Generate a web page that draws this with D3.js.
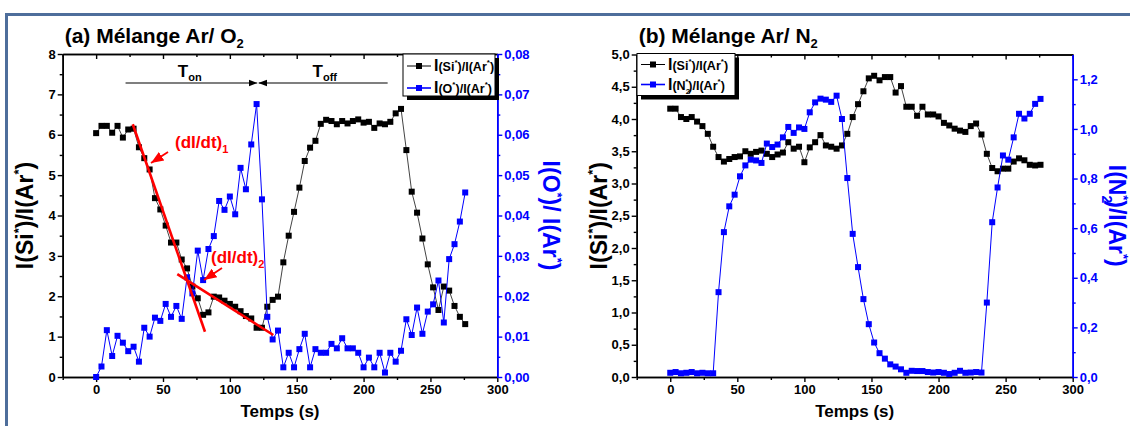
<!DOCTYPE html>
<html><head><meta charset="utf-8">
<script src="https://cdn.jsdelivr.net/npm/d3@7"></script>
<style>
body{margin:0;background:#fff}
svg{display:block}
text{font-family:Arial,"Liberation Sans",sans-serif;font-weight:bold}
</style>
</head><body>
<svg id="c" width="1130" height="426"></svg>
<script>
// ---------------- DATA ----------------
const timesA = [0,4,8,12,16,20,24,28,32,36,40,44,48,52,56,60,64,68,72,76,80,84,88,92,96,100,104,108,112,116,120,124,128,132,136,140,144,148,152,156,160,164,168,172,176,180,184,188,192,196,200,204,208,212,216,220,224,228,232,236,240,244,248,252,256,260,264,268,272,276];
const siA = [6.04,6.22,6.22,6.05,6.22,5.93,6.13,6.15,5.69,5.42,5.14,4.43,4.15,3.75,3.33,3.33,2.91,2.69,2.24,1.95,1.54,1.60,1.99,1.97,1.89,1.81,1.74,1.63,1.51,1.45,1.22,1.22,1.74,1.91,1.99,2.84,3.50,4.09,4.69,5.35,5.68,5.85,6.27,6.37,6.34,6.26,6.34,6.28,6.34,6.38,6.30,6.32,6.17,6.28,6.26,6.32,6.53,6.64,5.62,4.59,4.07,3.43,2.79,2.22,1.66,2.24,2.14,1.76,1.49,1.31];
const oA = [0.0000,0.0026,0.0116,0.0052,0.0102,0.0085,0.0064,0.0075,0.0038,0.0122,0.0100,0.0147,0.0139,0.0181,0.0149,0.0176,0.0144,0.0247,0.0207,0.0313,0.0240,0.0317,0.0349,0.0436,0.0414,0.0447,0.0403,0.0518,0.0465,0.0576,0.0676,0.0440,0.0149,0.0093,0.0115,0.0024,0.0060,0.0024,0.0069,0.0107,0.0024,0.0069,0.0060,0.0060,0.0082,0.0071,0.0096,0.0071,0.0071,0.0060,0.0024,0.0048,0.0024,0.0060,0.0011,0.0060,0.0038,0.0065,0.0143,0.0104,0.0172,0.0107,0.0162,0.0180,0.0239,0.0135,0.0292,0.0329,0.0385,0.0457];
const timesB = [0,4,8,12,16,20,24,28,32,36,40,44,48,52,56,60,64,68,72,76,80,84,88,92,96,100,104,108,112,116,120,124,128,132,136,140,144,148,152,156,160,164,168,172,176,180,184,188,192,196,200,204,208,212,216,220,224,228,232,236,240,244,248,252,256,260,264,268,272,276];
const siB = [4.16,4.16,4.03,4.00,4.03,3.96,3.89,3.77,3.57,3.41,3.34,3.38,3.41,3.42,3.50,3.46,3.49,3.51,3.46,3.41,3.45,3.48,3.64,3.54,3.57,3.33,3.56,3.64,3.75,3.59,3.57,3.54,3.59,3.77,4.03,4.23,4.43,4.63,4.67,4.60,4.65,4.65,4.41,4.51,4.19,4.19,4.05,4.19,4.07,4.07,4.04,3.94,3.90,3.85,3.82,3.80,3.89,3.93,3.76,3.46,3.24,3.19,3.23,3.23,3.34,3.39,3.36,3.29,3.28,3.29];
const n2B = [0.017,0.020,0.015,0.017,0.020,0.015,0.017,0.015,0.015,0.342,0.584,0.688,0.735,0.809,0.853,0.876,0.873,0.863,0.941,0.927,0.937,0.966,1.008,0.984,1.006,1.000,1.067,1.107,1.122,1.118,1.109,1.134,1.040,0.802,0.577,0.443,0.314,0.213,0.139,0.096,0.074,0.051,0.042,0.031,0.017,0.025,0.024,0.024,0.020,0.018,0.020,0.017,0.012,0.017,0.025,0.017,0.018,0.020,0.018,0.300,0.624,0.764,0.893,0.876,0.966,1.061,1.042,1.061,1.101,1.121];

const xMajor = [0,50,100,150,200,250,300];
const xMinor = [-25,25,75,125,175,225,275];
const yA_major = [0,1,2,3,4,5,6,7,8];
const yA_minor = [0.5,1.5,2.5,3.5,4.5,5.5,6.5,7.5];
const yAR_major = [0,0.01,0.02,0.03,0.04,0.05,0.06,0.07,0.08];
const yAR_minor = [0.005,0.015,0.025,0.035,0.045,0.055,0.065,0.075];
const yB_major = [0,0.5,1.0,1.5,2.0,2.5,3.0,3.5,4.0,4.5,5.0];
const yB_minor = [0.25,0.75,1.25,1.75,2.25,2.75,3.25,3.75,4.25,4.75];
const yBR_major = [0,0.2,0.4,0.6,0.8,1.0,1.2];
const yBR_minor = [0.1,0.3,0.5,0.7,0.9,1.1];

// annotations (data coordinates of panel a)
const tOn = [22, 120.5];
const tOff = [121.5, 218];
const slope1 = [[27.4, 6.26],[81.4, 1.12]];
const slope2 = [[60.7, 2.55],[132.5, 1.04]];

// ---------------- DRAW ----------------
const svg = d3.select('#c');
const BLUE = '#0000ff';
const comma = f => d => d3.format(f)(d).replace('.', ',');

svg.append('rect').attr('x',6.5).attr('y',14.5).attr('width',1135).attr('height',500)
  .attr('fill','none').attr('stroke','#4e6e9b').attr('stroke-width',3);

const defs = svg.append('defs');
function marker(id, color){
  defs.append('marker').attr('id',id).attr('viewBox','0 0 10 10').attr('refX',10).attr('refY',5)
   .attr('markerWidth',7).attr('markerHeight',7).attr('orient','auto-start-reverse')
   .append('path').attr('d','M0,1 L10,5 L0,9 Z').attr('fill',color);
}
marker('arrK','#000'); marker('arrR','#ff0000');

function panel(c){
  const g = svg.append('g');
  const x = d3.scaleLinear().domain([-25,300]).range([c.left,c.right]);
  const yL = d3.scaleLinear().domain(c.yLdom).range([c.bottom,c.top]);
  const yR = d3.scaleLinear().domain(c.yRdom).range([c.bottom,c.top]);

  const styleAxis = (sel, color) => {
    sel.selectAll('path').attr('stroke',color).attr('stroke-width',1.6);
    sel.selectAll('line').attr('stroke',color).attr('stroke-width',1.4);
    sel.selectAll('text').attr('fill',color).attr('font-size',13).attr('font-weight','bold')
       .attr('font-family','Arial, "Liberation Sans", sans-serif');
  };
  g.append('g').attr('transform',`translate(0,${c.bottom})`)
    .call(d3.axisBottom(x).tickValues(xMinor).tickSize(3).tickSizeOuter(0).tickFormat(''))
    .call(s=>styleAxis(s,'#000'));
  g.append('g').attr('transform',`translate(0,${c.bottom})`)
    .call(d3.axisBottom(x).tickValues(xMajor).tickSize(5).tickSizeOuter(0).tickPadding(3).tickFormat(d3.format('d')))
    .call(s=>styleAxis(s,'#000'));
  g.append('g').attr('transform',`translate(0,${c.top})`)
    .call(d3.axisTop(x).tickValues(xMinor).tickSize(-3).tickSizeOuter(0).tickFormat(''))
    .call(s=>styleAxis(s,'#000'));
  g.append('g').attr('transform',`translate(0,${c.top})`)
    .call(d3.axisTop(x).tickValues(xMajor).tickSize(-5).tickSizeOuter(0).tickFormat(''))
    .call(s=>styleAxis(s,'#000'));
  g.append('g').attr('transform',`translate(${c.left},0)`)
    .call(d3.axisLeft(yL).tickValues(c.yLminor).tickSize(3).tickSizeOuter(0).tickFormat(''))
    .call(s=>styleAxis(s,'#000'));
  g.append('g').attr('transform',`translate(${c.left},0)`)
    .call(d3.axisLeft(yL).tickValues(c.yLmajor).tickSize(5).tickSizeOuter(0).tickPadding(2).tickFormat(c.yLfmt))
    .call(s=>styleAxis(s,'#000'));
  g.append('g').attr('transform',`translate(${c.right},0)`)
    .call(d3.axisRight(yR).tickValues(c.yRminor).tickSize(3).tickSizeOuter(0).tickFormat(''))
    .call(s=>styleAxis(s,BLUE));
  g.append('g').attr('transform',`translate(${c.right},0)`)
    .call(d3.axisRight(yR).tickValues(c.yRmajor).tickSize(5).tickSizeOuter(0).tickPadding(2).tickFormat(c.yRfmt))
    .call(s=>styleAxis(s,BLUE));

  const drawSeries = (times, vals, y, color, lineColor) => {
    const pts = times.map((t,i)=>[t,vals[i]]);
    g.append('path').datum(pts).attr('fill','none').attr('stroke',lineColor).attr('stroke-width',1)
      .attr('d', d3.line().x(d=>x(d[0])).y(d=>y(d[1])));
    g.append('g').selectAll('rect').data(pts).join('rect')
      .attr('x',d=>x(d[0])-3).attr('y',d=>y(d[1])-3).attr('width',6).attr('height',6)
      .attr('fill',color);
  };
  drawSeries(c.times, c.s1, yL, '#000', '#444');
  drawSeries(c.times, c.s2, yR, BLUE, BLUE);

  const t = g.append('text').attr('x',c.left+2).attr('y',43).attr('font-size',21).attr('fill','#000');
  t.append('tspan').text(c.title);
  t.append('tspan').attr('dy',5).attr('font-size',13).text(c.titleSub);

  g.append('text').attr('x',(c.left+c.right)/2).attr('y',417).attr('text-anchor','middle')
    .attr('font-size',17).text('Temps (s)');

  const yl = g.append('text').attr('transform',`translate(${c.left-30},${(c.top+c.bottom)/2}) rotate(-90)`)
    .attr('text-anchor','middle').attr('font-size',23).attr('fill','#000');
  c.leftLabel(yl);
  const yr = g.append('text').attr('transform',`translate(${c.right+c.rOff},${(c.top+c.bottom)/2}) rotate(90)`)
    .attr('text-anchor','middle').attr('font-size',23).attr('fill',BLUE);
  c.rightLabel(yr);

  const L = c.legend;
  g.append('rect').attr('x',L.x+4).attr('y',L.y+4).attr('width',L.w).attr('height',L.h).attr('fill','#000');
  g.append('rect').attr('x',L.x).attr('y',L.y).attr('width',L.w).attr('height',L.h).attr('fill','#fff').attr('stroke','#000').attr('stroke-width',1);
  L.rows.forEach((r,i)=>{
    const yy = L.y + L.r0 + i*L.dr;
    g.append('line').attr('x1',L.x+4).attr('x2',L.x+28).attr('y1',yy).attr('y2',yy)
      .attr('stroke',r.color).attr('stroke-width',r.color==='#000'?1:1.6);
    g.append('rect').attr('x',L.x+13).attr('y',yy-3).attr('width',6).attr('height',6).attr('fill',r.color);
    const tx = g.append('text').attr('x',L.x+31).attr('y',yy+5).attr('font-size',13).attr('fill','#000');
    r.label(tx);
  });
  return {g,x,yL,yR};
}

function ratioLabel(sel, big, small, sp, withSub){
  sel.append('tspan').attr('font-size',big).text('I');
  sel.append('tspan').attr('font-size',small).text('(' + sp);
  if (withSub){
    sel.append('tspan').attr('font-size',small*0.65).attr('dy',small*0.35).text(withSub);
    sel.append('tspan').attr('font-size',small*0.65).attr('dx',-small*0.4).attr('dy',-small*0.8).text('*');
  } else {
    sel.append('tspan').attr('font-size',small*0.65).attr('dy',-small*0.45).text('*');
  }
  sel.append('tspan').attr('font-size',small).attr('dy',small*0.45).text(')/I(Ar');
  sel.append('tspan').attr('font-size',small*0.65).attr('dy',-small*0.45).text('*');
  sel.append('tspan').attr('font-size',small).attr('dy',small*0.45).text(')');
}
function axisLabel(sp, sep, sub){
  return sel => {
    sel.append('tspan').text('I(' + sp);
    if (sub){
      sel.append('tspan').attr('font-size',14).attr('dy',7).text(sub);
      sel.append('tspan').attr('font-size',13).attr('dx',-8).attr('dy',-17).text('*');
    } else {
      sel.append('tspan').attr('font-size',13).attr('dy',-10).text('*');
    }
    sel.append('tspan').attr('dy',10).text(')/' + sep + 'I(Ar');
    sel.append('tspan').attr('font-size',13).attr('dy',-10).text('*');
    sel.append('tspan').attr('dy',10).text(')');
  };
}

const A = panel({
  left:62.7, right:497.3, top:54, bottom:377, rOff:46,
  yLdom:[0,8], yRdom:[0,0.08],
  yLmajor:yA_major, yLminor:yA_minor, yRmajor:yAR_major, yRminor:yAR_minor,
  yLfmt:d3.format('d'), yRfmt:comma('.2f'),
  times:timesA, s1:siA, s2:oA,
  title:'(a) Mélange Ar/ O', titleSub:'2',
  leftLabel:axisLabel('Si',''), rightLabel:axisLabel('O',' '),
  legend:{x:403,y:54,w:92,h:42,r0:12,dr:22,rows:[
    {color:'#000',label:s=>ratioLabel(s,16,12.5,'Si')},
    {color:BLUE,label:s=>ratioLabel(s,16,12.5,'O')}]}
});
const B = panel({
  left:636.7, right:1072.7, top:54.5, bottom:377, rOff:36,
  yLdom:[0,5], yRdom:[0,1.3],
  yLmajor:yB_major, yLminor:yB_minor, yRmajor:yBR_major, yRminor:yBR_minor,
  yLfmt:comma('.1f'), yRfmt:comma('.1f'),
  times:timesB, s1:siB, s2:n2B,
  title:'(b) Mélange Ar/ N', titleSub:'2',
  leftLabel:axisLabel('Si',''), rightLabel:axisLabel('N','','2'),
  legend:{x:637,y:53.5,w:98,h:42,r0:11,dr:20,rows:[
    {color:'#000',label:s=>ratioLabel(s,16,12.5,'Si')},
    {color:BLUE,label:s=>ratioLabel(s,16,12.5,'N','2')}]}
});

// ---- annotations on panel a ----
const ga = A.g, xa = A.x, ya = A.yL;
const arrowY = 83;
ga.append('line').attr('x1',xa(tOn[0])).attr('x2',xa(tOn[1])).attr('y1',arrowY).attr('y2',arrowY)
  .attr('stroke','#000').attr('stroke-width',1.2).attr('marker-end','url(#arrK)');
ga.append('line').attr('x1',xa(tOff[1])).attr('x2',xa(tOff[0])).attr('y1',arrowY).attr('y2',arrowY)
  .attr('stroke','#000').attr('stroke-width',1.2).attr('marker-end','url(#arrK)');
function tLabel(cx, sub){
  const t = ga.append('text').attr('x',cx).attr('y',77).attr('text-anchor','middle')
    .attr('font-size',17).attr('font-weight','normal').attr('fill','#000');
  t.append('tspan').text('T');
  t.append('tspan').attr('font-size',11).attr('font-weight','bold').attr('dy',4).text(sub);
}
tLabel(xa(70), 'on');
tLabel(xa(171), 'off');

[slope1, slope2].forEach(s=>{
  ga.append('line').attr('x1',xa(s[0][0])).attr('y1',ya(s[0][1])).attr('x2',xa(s[1][0])).attr('y2',ya(s[1][1]))
    .attr('stroke','#ff0000').attr('stroke-width',2.6);
});
function dLabel(x0, y0, sub){
  const t = ga.append('text').attr('x',x0).attr('y',y0).attr('font-size',17).attr('fill','#ff0000');
  t.append('tspan').text('(dI/dt)');
  t.append('tspan').attr('font-size',11).attr('dy',5).text(sub);
}
dLabel(175, 148, '1');
dLabel(211, 263, '2');
ga.append('line').attr('x1',168).attr('y1',152).attr('x2',151).attr('y2',163)
  .attr('stroke','#ff0000').attr('stroke-width',1.8).attr('marker-end','url(#arrR)');
ga.append('line').attr('x1',222).attr('y1',268).attr('x2',204).attr('y2',280)
  .attr('stroke','#ff0000').attr('stroke-width',1.8).attr('marker-end','url(#arrR)');
</script>
</body></html>
